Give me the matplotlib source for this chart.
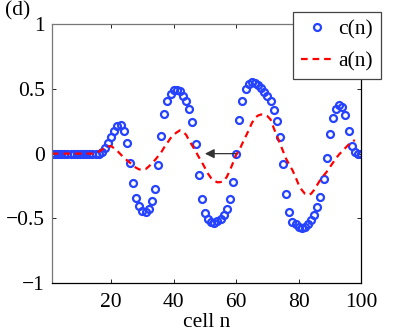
import numpy as np
import matplotlib
matplotlib.use('Agg')
import matplotlib.pyplot as plt

# cell index
n = np.arange(1, 101)

# c(n) values (n = 1..100)
c_vals = [0.0] * 16 + [
    0.01, 0.04, 0.079, 0.13, 0.174, 0.215, 0.22, 0.174, 0.079, -0.071,    # 17-26
    -0.23, -0.34, -0.405, -0.444, -0.454, -0.43, -0.37, -0.274, -0.09, 0.137,  # 27-36
    0.31, 0.405, 0.46, 0.49, 0.496, 0.483, 0.446, 0.408, 0.349, 0.246,    # 37-46
    0.071, -0.166, -0.354, -0.456, -0.509, -0.532, -0.535, -0.522, -0.509, -0.475,  # 47-56
    -0.432, -0.354, -0.222, 0.0, 0.26, 0.41, 0.50, 0.54, 0.552, 0.545,    # 57-66
    0.529, 0.507, 0.475, 0.445, 0.41, 0.34, 0.25, 0.125, -0.08, -0.31,    # 67-76
    -0.45, -0.53, -0.545, -0.565, -0.573, -0.565, -0.544, -0.514, -0.475, -0.415,  # 77-86
    -0.333, -0.2, -0.03, 0.15, 0.272, 0.349, 0.375, 0.361, 0.297, 0.174,  # 87-96
    0.058, 0.012, 0.0, 0.0]                                                 # 97-100

# a(n) values (n = 1..98)
n_a = np.arange(1, 99)
a_vals = [0.0] * 14 + [
    0.005, 0.015, 0.03, 0.045, 0.056, 0.058, 0.04, 0.02, -0.005, -0.03,   # 15-24
    -0.05, -0.07, -0.09, -0.11, -0.122, -0.125, -0.12, -0.10, -0.076, -0.05,  # 25-34
    -0.02, 0.01, 0.05, 0.085, 0.12, 0.145, 0.165, 0.18, 0.17, 0.145,      # 35-44
    0.10, 0.06, 0.02, -0.025, -0.065, -0.11, -0.155, -0.19, -0.21, -0.222,  # 45-54
    -0.22, -0.212, -0.18, -0.13, -0.07, -0.01, 0.027, 0.08, 0.13, 0.18,   # 55-64
    0.235, 0.275, 0.295, 0.303, 0.30, 0.29, 0.265, 0.20, 0.14, 0.08,      # 65-74
    0.02, -0.04, -0.085, -0.127, -0.18, -0.24, -0.28, -0.31, -0.32, -0.31,  # 75-84
    -0.28, -0.24, -0.20, -0.17, -0.14, -0.105, -0.07, -0.035, -0.005, 0.02,  # 85-94
    0.045, 0.07, 0.09, 0.105]                                               # 95-98

x_ticks = [20, 40, 60, 80, 100]
y_ticks = [-1, -0.5, 0, 0.5, 1]
y_ticklabels = ['\u22121', '\u22120.5', '0', '0.5', '1']

plt.rcParams['font.family'] = ['Liberation Serif', 'DejaVu Serif']
plt.rcParams['font.size'] = 15.5

fig = plt.figure(figsize=(3.99, 3.34), dpi=100)
ax = fig.add_axes([0.130, 0.153, 0.775, 0.774])

ax.plot(n, c_vals, 'o', mfc='none', mec='#2442ff', ms=5.0, mew=1.6, label='c(n)')
ax.plot(n_a, a_vals, color='red', lw=1.6, dashes=(3.0, 2.2), label='a(n)')

# arrow from n=60 to n=50
ax.annotate('', xy=(50, 0), xytext=(60, 0),
            arrowprops=dict(arrowstyle='-|>', color='#333333', lw=0.9,
                            mutation_scale=14, shrinkA=0, shrinkB=0))

ax.set_xlim(1, 100)
ax.set_ylim(-1, 1)
ax.set_xticks(x_ticks)
ax.set_yticks(y_ticks)
ax.set_yticklabels(y_ticklabels)
ax.tick_params(direction='in', length=3, width=0.6, top=True, right=True, pad=5)
ax.tick_params(axis='x', pad=7)
ax.set_xlabel('cell n', labelpad=1)
for s in ['left', 'top']:
    ax.spines[s].set_color('#777777')
for s in ax.spines.values():
    s.set_linewidth(0.9)

leg = ax.legend(loc='upper right', bbox_to_anchor=(0.954, 0.963),
                bbox_transform=fig.transFigure, borderaxespad=0,
                handlelength=1.5, handletextpad=0.25, borderpad=0.35,
                labelspacing=0.55, fancybox=False, framealpha=1, numpoints=1)
leg.get_frame().set_edgecolor('#444444')
leg.get_frame().set_linewidth(0.9)

fig.text(0.012, 0.955, '(d)', fontsize=15.5)

fig.savefig('out.png', dpi=100)
